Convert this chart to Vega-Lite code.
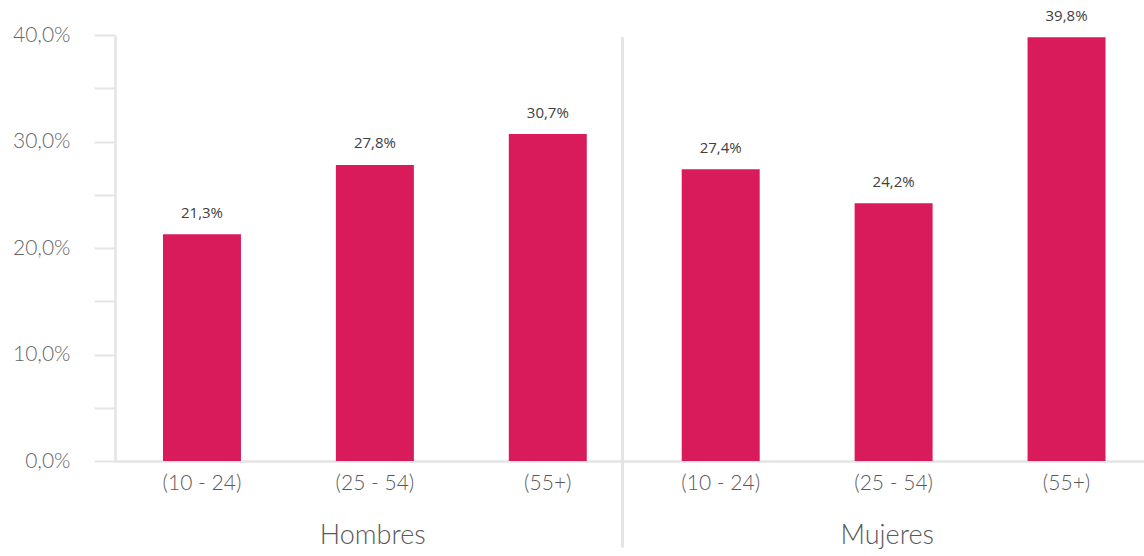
{
  "$schema": "https://vega.github.io/schema/vega-lite/v6.json",
  "autosize": "none",
  "width": 1029,
  "height": 426,
  "padding": {"left": 115, "top": 35, "right": 0, "bottom": 95},
  "background": "white",
  "config": {
    "view": {"stroke": null},
    "locale": {"number": {"decimal": ",", "thousands": ".", "grouping": [3], "currency": ["", " €"]}}
  },
  "data": {
    "values": [
      {"grupo": "Hombres", "edad": "(10 - 24)", "key": "H1", "valor": 0.213},
      {"grupo": "Hombres", "edad": "(25 - 54)", "key": "H2", "valor": 0.278},
      {"grupo": "Hombres", "edad": "(55+)", "key": "H3", "valor": 0.307},
      {"grupo": "Mujeres", "edad": "(10 - 24)", "key": "M1", "valor": 0.274},
      {"grupo": "Mujeres", "edad": "(25 - 54)", "key": "M2", "valor": 0.242},
      {"grupo": "Mujeres", "edad": "(55+)", "key": "M3", "valor": 0.398}
    ]
  },
  "layer": [
    {
      "encoding": {
        "x": {
          "field": "key",
          "type": "nominal",
          "sort": null,
          "scale": {"paddingInner": 0.549, "paddingOuter": 0.25, "align": 0.555},
          "axis": {
            "orient": "bottom",
            "title": null,
            "labelAngle": 0,
            "labelExpr": "datum.value === 'H1' || datum.value === 'M1' ? '(10 - 24)' : (datum.value === 'H2' || datum.value === 'M2' ? '(25 - 54)' : '(55+)')",
            "ticks": false,
            "domainColor": "#e4e4e4",
            "domainWidth": 2.5,
            "labelFont": "Lato",
            "labelFontWeight": 300,
            "labelFontSize": 21,
            "labelColor": "#595959",
            "labelPadding": 11,
            "labelBaseline": "top"
          }
        },
        "y": {
          "field": "valor",
          "type": "quantitative",
          "scale": {"domain": [0, 0.4], "nice": false},
          "axis": {
            "title": null,
            "values": [0, 0.05, 0.1, 0.15, 0.2, 0.25, 0.3, 0.35, 0.4],
            "format": ".1%",
            "labelExpr": "round(datum.value * 100) % 10 === 0 ? datum.label : ''",
            "grid": false,
            "domainColor": "#e4e4e4",
            "domainWidth": 2.5,
            "tickColor": "#e4e4e4",
            "tickWidth": 2,
            "tickSize": 21,
            "labelPadding": 24,
            "labelFont": "Lato",
            "labelFontWeight": 300,
            "labelFontSize": 21,
            "labelColor": "#666666"
          }
        }
      },
      "layer": [
        {"mark": {"type": "bar", "color": "#D91B5C"}},
        {
          "mark": {"type": "text", "baseline": "middle", "dy": -21.5, "font": "Open Sans", "fontSize": 15, "color": "#404040"},
          "encoding": {"text": {"field": "valor", "type": "quantitative", "format": ".1%"}}
        },
        {
          "mark": {"type": "rule", "color": "#e4e4e4", "strokeWidth": 2},
          "encoding": {
            "x": {"datum": "H3", "bandPosition": 1.46},
            "y": {"datum": 0.398},
            "y2": {"datum": -0.081}
          }
        }
      ]
    },
    {
      "mark": {"type": "text", "text": "", "opacity": 0},
      "encoding": {
        "x": {
          "field": "grupo",
          "type": "nominal",
          "scale": {"paddingInner": 0, "paddingOuter": 0},
          "axis": {
            "orient": "bottom",
            "title": null,
            "labelAngle": 0,
            "domain": false,
            "ticks": false,
            "labelFont": "Lato",
            "labelFontWeight": 300,
            "labelFontSize": 27,
            "labelColor": "#595959",
            "labelPadding": 61,
            "labelBaseline": "top"
          }
        },
        "y": {"datum": 0}
      }
    }
  ],
  "resolve": {"scale": {"x": "independent"}, "axis": {"x": "independent"}}
}
